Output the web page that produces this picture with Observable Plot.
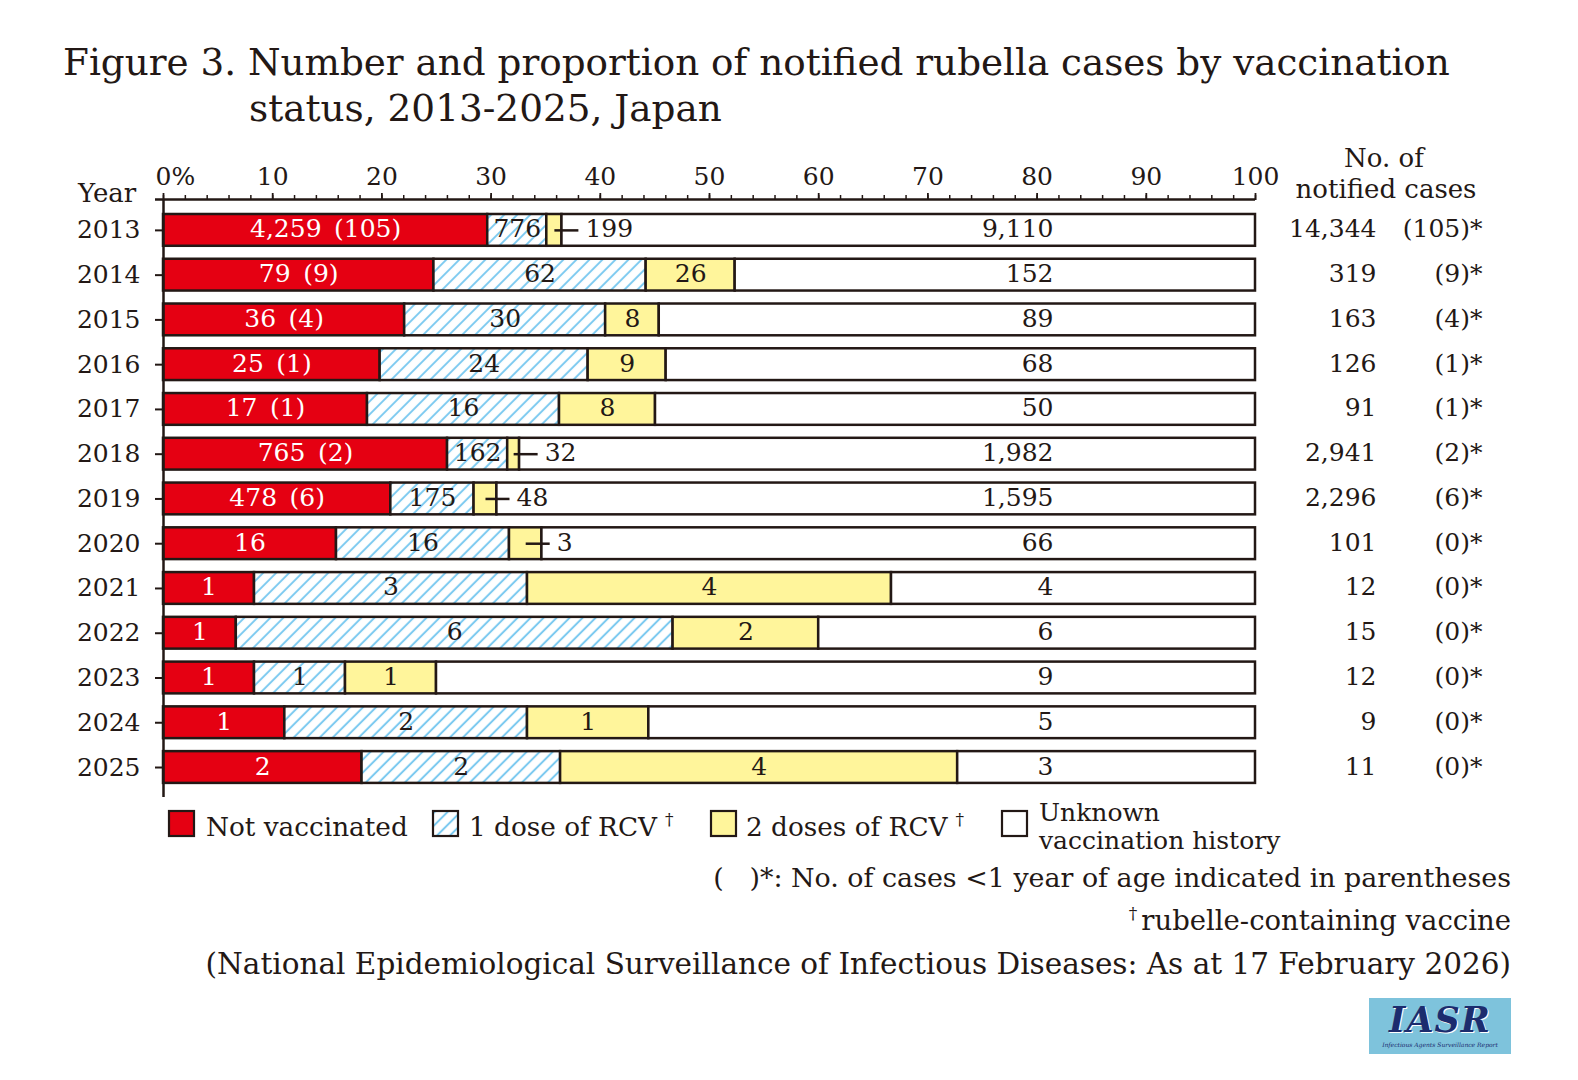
<!DOCTYPE html>
<html>
<head>
<meta charset="utf-8">
<script src="https://cdn.jsdelivr.net/npm/d3@7"></script>
<script src="https://cdn.jsdelivr.net/npm/@observablehq/plot@0.6"></script>
<style>
  html, body { margin: 0; padding: 0; background: #fff; }
  body { width: 1578px; height: 1080px; position: relative; overflow: hidden;
         font-family: "DejaVu Serif", serif; color: #231815; }
  .t { position: absolute; white-space: pre; line-height: 1; }
  #chart { position: absolute; left: 0; top: 140px; }
  .sw { position: absolute; }
</style>
</head>
<body>
<svg width="0" height="0" style="position:absolute">
  <defs>
    <pattern id="hatch" patternUnits="userSpaceOnUse" width="9.2" height="9.2" patternTransform="rotate(45)">
      <rect width="9.2" height="9.2" fill="#ffffff"></rect>
      <line x1="4.6" y1="0" x2="4.6" y2="9.2" stroke="#7dcaf0" stroke-width="2"></line>
    </pattern>
  </defs>
</svg>
<div id="chart"></div>
<script>
// ---- data ----
const years = [2013, 2014, 2015, 2016, 2017, 2018, 2019, 2020, 2021, 2022, 2023, 2024, 2025];
const notVaccinated = [4259, 79, 36, 25, 17, 765, 478, 16, 1, 1, 1, 1, 2];
const infantCases = [105, 9, 4, 1, 1, 2, 6, 0, 0, 0, 0, 0, 0];
const oneDose = [776, 62, 30, 24, 16, 162, 175, 16, 3, 6, 1, 2, 2];
const twoDoses = [199, 26, 8, 9, 8, 32, 48, 3, 4, 2, 1, 1, 4];
const unknownHistory = [9110, 152, 89, 68, 50, 1982, 1595, 66, 4, 6, 9, 5, 3];
const categories = ["Not vaccinated", "1 dose of RCV", "2 doses of RCV", "Unknown vaccination history"];
const majorTicks = [0, 10, 20, 30, 40, 50, 60, 70, 80, 90, 100];
const minorTicks = [0, 2, 4, 6, 8, 10, 12, 14, 16, 18, 20, 22, 24, 26, 28, 30, 32, 34, 36, 38, 40, 42, 44, 46, 48, 50,
  52, 54, 56, 58, 60, 62, 64, 66, 68, 70, 72, 74, 76, 78, 80, 82, 84, 86, 88, 90, 92, 94, 96, 98, 100];

// ---- styles ----
const DARK = "#231815";
const colors = ["#e50012", "url(#hatch)", "#fff59b", "#ffffff"];
const FONT = "DejaVu Serif";
const fmt = d3.format(",");

// ---- derived table ----
const rows = years.map((year, i) => {
  const counts = [notVaccinated[i], oneDose[i], twoDoses[i], unknownHistory[i]];
  const total = d3.sum(counts);
  let acc = 0;
  const segs = counts.map((c, k) => {
    const pct = c / total * 100;
    const s = {i, year, cat: categories[k], k, count: c, pct, x1: acc, x2: acc + pct, mid: acc + pct / 2,
               yA: i - 0.355, yB: i + 0.355};
    acc += pct;
    return s;
  });
  return {i, year, total, infants: infantCases[i], segs};
});
const segments = rows.flatMap(r => r.segs);
const yTop = -0.69, yBottom = 12.67;

const lineSymbol = { draw(ctx) { ctx.moveTo(0, 0); ctx.lineTo(24, 0); } };

const chart = Plot.plot({
  width: 1578, height: 662,
  marginTop: 59, marginBottom: 5, marginLeft: 163, marginRight: 323,
  x: {domain: [0, 100], axis: null},
  y: {domain: [yTop, yBottom], reverse: true, axis: null},
  color: {domain: categories, range: colors},
  style: {fontFamily: FONT, fontSize: "25px", color: DARK, background: "transparent", overflow: "visible"},
  marks: [
    Plot.rectX(segments, {x1: "x1", x2: "x2", y1: "yA", y2: "yB",
      fill: "cat", stroke: DARK, strokeWidth: 2.5}),
    // frame lines
    Plot.ruleY([yTop], {x1: 0, x2: 100, stroke: DARK, strokeWidth: 2.5, insetLeft: -8}),
    Plot.ruleX([0], {y1: yTop, y2: yBottom, stroke: DARK, strokeWidth: 2.5}),
    // top axis
    Plot.axisX({anchor: "top", ticks: minorTicks, tickSize: 5, tickFormat: () => "", label: null,
      stroke: DARK, strokeWidth: 1.5}),
    Plot.axisX({anchor: "top", ticks: majorTicks, tickSize: 7, tickPadding: 8, label: null, stroke: DARK, strokeWidth: 1.8,
      fill: DARK, fontSize: 25, tickFormat: d => d === 0 ? "" : String(d)}),
    Plot.text([0], {x: d => d, text: () => "0%", frameAnchor: "top", textAnchor: "start", lineAnchor: "bottom",
      dx: -8, dy: -15, fill: DARK, fontSize: 25}),
    // left axis
    Plot.axisY({ticks: years.map((_, i) => i), tickFormat: i => String(years[i]), tickSize: 8, tickPadding: 15,
      label: null, stroke: DARK, strokeWidth: 2, fill: DARK, fontSize: 25}),
    // labels: not vaccinated
    Plot.text(segments.filter(d => d.k === 0), {x: "mid", y: "i", fill: "#ffffff", dy: -1,
      text: d => rows[d.i].infants > 0 ? `${fmt(d.count)}\u2002(${rows[d.i].infants})` : fmt(d.count)}),
    // 1 dose
    Plot.text(segments.filter(d => d.k === 1), {x: "mid", y: "i", fill: DARK, dy: -1, text: d => fmt(d.count)}),
    // 2 doses, wide enough
    Plot.text(segments.filter(d => d.k === 2 && d.pct >= 4), {x: "mid", y: "i", fill: DARK, dy: -1, text: d => fmt(d.count)}),
    // 2 doses, narrow: leader line + label
    Plot.dot(segments.filter(d => d.k === 2 && d.pct < 4), {x: "mid", y: "i", symbol: lineSymbol, r: 5,
      stroke: DARK, strokeWidth: 2.5, fill: "none"}),
    Plot.text(segments.filter(d => d.k === 2 && d.pct < 4), {x: "mid", y: "i", dx: 31, textAnchor: "start",
      fill: DARK, dy: -1, text: d => fmt(d.count)}),
    // unknown
    Plot.text(segments.filter(d => d.k === 3), {y: "i", frameAnchor: "right", dx: -202, textAnchor: "end",
      fill: DARK, dy: -1, text: d => fmt(d.count)}),
    // totals
    Plot.text(rows, {y: "i", frameAnchor: "right", dx: 121, textAnchor: "end", fill: DARK, dy: -1,
      text: d => fmt(d.total)}),
    Plot.text(rows, {y: "i", frameAnchor: "right", dx: 227, textAnchor: "end", fill: DARK, dy: -1,
      text: d => `(${d.infants})*`})
  ]
});
document.getElementById("chart").appendChild(chart);

// ---- HTML text helpers ----
function place(text, {x, baseline, size, anchor = "start", fit = null, style = ""}) {
  const el = document.createElement("div");
  el.className = "t";
  el.style.fontSize = size + "px";
  el.style.cssText += style;
  el.innerHTML = text;
  document.body.appendChild(el);
  if (fit) {
    const w = el.getBoundingClientRect().width;
    size = size * fit / w;
    el.style.fontSize = size + "px";
  }
  el.style.top = (baseline - 0.846 * size) + "px";
  const w = el.getBoundingClientRect().width;
  if (anchor === "start") el.style.left = x + "px";
  else if (anchor === "end") el.style.left = (x - w) + "px";
  else el.style.left = (x - w / 2) + "px";
  return el;
}

// title
place("Figure 3. Number and proportion of notified rubella cases by vaccination", {x: 63, baseline: 76, size: 37, fit: 1387});
place("status, 2013-2025, Japan", {x: 249, baseline: 122, size: 37.4});
// axis headers
place("Year", {x: 78, baseline: 202, size: 26});
place("No. of", {x: 1384, baseline: 167, size: 26, anchor: "middle"});
place("notified cases", {x: 1386, baseline: 198, size: 26, anchor: "middle"});

// legend
const legendSwatchX = [169, 433, 711, 1002];
const legendTextX = [206, 469, 746, 1039];
categories.forEach((c, k) => {
  const s = document.createElementNS("http://www.w3.org/2000/svg", "svg");
  s.setAttribute("width", 30); s.setAttribute("height", 30);
  s.setAttribute("class", "sw");
  s.style.left = (legendSwatchX[k] - 2) + "px"; s.style.top = (811 - 2) + "px";
  s.innerHTML = `<rect x="2" y="2" width="25" height="25" fill="${colors[k]}" stroke="${DARK}" stroke-width="2.2"></rect>`;
  document.body.appendChild(s);
});
const dagger = '<span style="font-size:17px;position:relative;top:-11px;margin-left:8px">†</span>';
place(categories[0], {x: legendTextX[0], baseline: 836, size: 26.3});
place(categories[1] + dagger, {x: legendTextX[1], baseline: 836, size: 26.3});
place(categories[2] + dagger, {x: legendTextX[2], baseline: 836, size: 26.3});
place("Unknown", {x: legendTextX[3], baseline: 821, size: 25});
place("vaccination history", {x: legendTextX[3], baseline: 849, size: 25});

// notes
place("(&nbsp;&nbsp;&nbsp;)*: No. of cases &lt;1 year of age indicated in parentheses", {x: 1511, baseline: 888, size: 26, anchor: "end", fit: 798});
place('<span style="font-size:17px;position:relative;top:-11px;margin-right:4px">†</span>rubelle-containing vaccine', {x: 1511, baseline: 930, size: 26, anchor: "end", fit: 383});
place("(National Epidemiological Surveillance of Infectious Diseases: As at 17 February 2026)", {x: 1511, baseline: 975, size: 28, anchor: "end", fit: 1306});

// logo
const logo = document.createElement("div");
logo.style.cssText = "position:absolute;left:1369px;top:998px;width:142px;height:56px;background:#7ec3dc";
logo.innerHTML = '<div style="position:absolute;left:0;width:142px;top:4px;text-align:center;font-family:\'DejaVu Serif\';font-style:italic;font-weight:bold;font-size:35px;line-height:1;color:#1c2c6e;text-shadow:1px 1px 0 #fff;letter-spacing:1px">IASR</div>'
  + '<div style="position:absolute;left:0;width:142px;top:44px;text-align:center;font-family:\'DejaVu Serif\';font-style:italic;font-size:6px;line-height:1;color:#1c2c6e;white-space:nowrap">Infectious Agents Surveillance Report</div>';
document.body.appendChild(logo);
</script>
</body>
</html>
